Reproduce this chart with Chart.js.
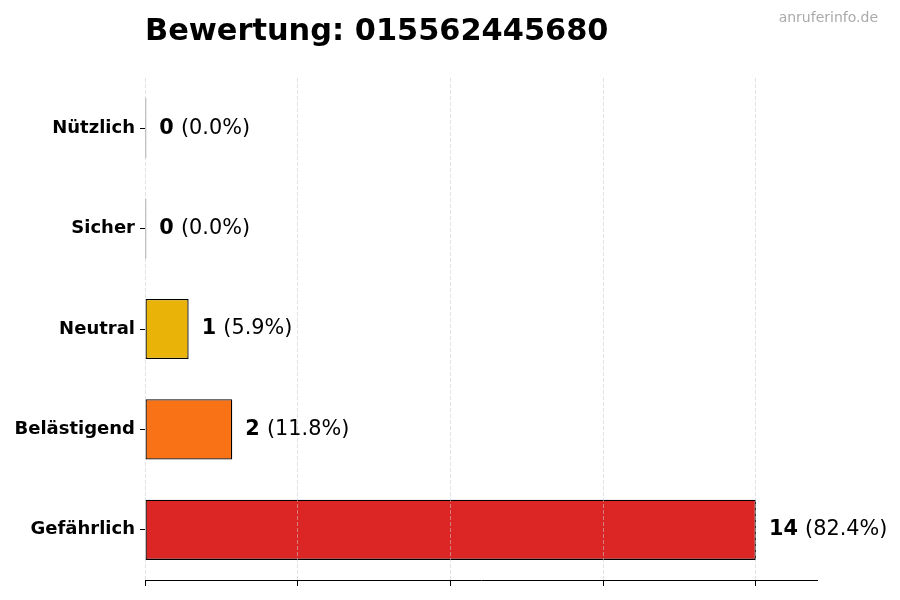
<!DOCTYPE html>
<html>
<head>
<meta charset="utf-8">
<script src="https://cdn.jsdelivr.net/npm/chart.js@4"></script>
<style>
  html, body { margin: 0; padding: 0; background: #fff; }
  #wrap { width: 900px; height: 600px; position: relative; }
</style>
</head>
<body>
<div id="wrap"><canvas id="c" width="900" height="600"></canvas></div>
<script>
const titleText = 'Bewertung: 015562445680';
const watermark = 'anruferinfo.de';
const categories = ['Nützlich', 'Sicher', 'Neutral', 'Belästigend', 'Gefährlich'];
const counts = [0, 0, 1, 2, 14];
const barColors = ['#22c55e', '#3b82f6', '#eab308', '#f97316', '#dc2626'];
const xTickValues = [0, 3.5, 7, 10.5, 14];

const total = counts.reduce((a, b) => a + b, 0);
const percents = counts.map(v => total ? (v / total * 100) : 0);
const FONT = "'DejaVu Sans', sans-serif";

const labelPlugin = {
  id: 'valueLabels',
  afterDraw(chart) {
    const ctx = chart.ctx;
    const meta = chart.getDatasetMeta(0);
    ctx.save();
    ctx.textBaseline = 'middle';
    ctx.textAlign = 'left';
    ctx.fillStyle = '#000';
    meta.data.forEach((bar, i) => {
      const x = bar.x + 13;
      const y = bar.y;
      ctx.font = 'bold 20.8px ' + FONT;
      const vTxt = String(counts[i]);
      ctx.fillText(vTxt, x, y);
      const w = ctx.measureText(vTxt + ' ').width;
      ctx.font = '20.8px ' + FONT;
      ctx.fillText('(' + percents[i].toFixed(1) + '%)', x + w, y);
    });
    // title
    const area = chart.chartArea;
    ctx.textBaseline = 'alphabetic';
    ctx.font = 'bold 30.4px ' + FONT;
    ctx.fillText(titleText, area.left, 40);
    // watermark
    ctx.font = '14px ' + FONT;
    ctx.fillStyle = '#aaaaaa';
    ctx.textAlign = 'right';
    ctx.fillText(watermark, 878, 22);
    ctx.restore();
  }
};

new Chart(document.getElementById('c'), {
  type: 'bar',
  data: {
    labels: categories,
    datasets: [{
      data: counts,
      backgroundColor: barColors,
      borderColor: '#000',
      borderWidth: 1.3,
      borderSkipped: false,
      minBarLength: 1.3,
      barPercentage: 0.6,
      categoryPercentage: 1.0
    }]
  },
  options: {
    indexAxis: 'y',
    responsive: false,
    animation: false,
    devicePixelRatio: 1,
    layout: { padding: { top: 78, right: 83, left: 0, bottom: 0 } },
    plugins: {
      legend: { display: false },
      tooltip: { enabled: false },
      title: { display: false }
    },
    scales: {
      x: {
        type: 'linear',
        min: 0,
        max: Math.max(...counts) * 1.1,
        z: 1,
        afterBuildTicks(scale) { scale.ticks = xTickValues.map(v => ({ value: v })); },
        afterFit(scale) { scale.height = 20; },
        grid: {
          display: true,
          z: 1,
          color: 'rgba(200,200,200,0.55)',
          lineWidth: 1,
          drawTicks: true,
          tickLength: 6,
          tickColor: '#000',
          tickWidth: 1,
          tickBorderDash: []
        },
        border: { display: true, z: 1, color: '#000', width: 1, dash: [4, 2] },
        ticks: { display: false }
      },
      y: {
        type: 'category',
        afterFit(scale) { scale.width = 145; },
        grid: {
          display: true,
          offset: false,
          drawOnChartArea: false,
          drawTicks: true,
          tickLength: 5,
          tickColor: '#000',
          tickWidth: 1
        },
        border: { display: false },
        ticks: {
          color: '#000',
          padding: 5,
          font: { family: FONT, size: 18, weight: 'bold' }
        }
      }
    }
  },
  plugins: [labelPlugin]
});
</script>
</body>
</html>
